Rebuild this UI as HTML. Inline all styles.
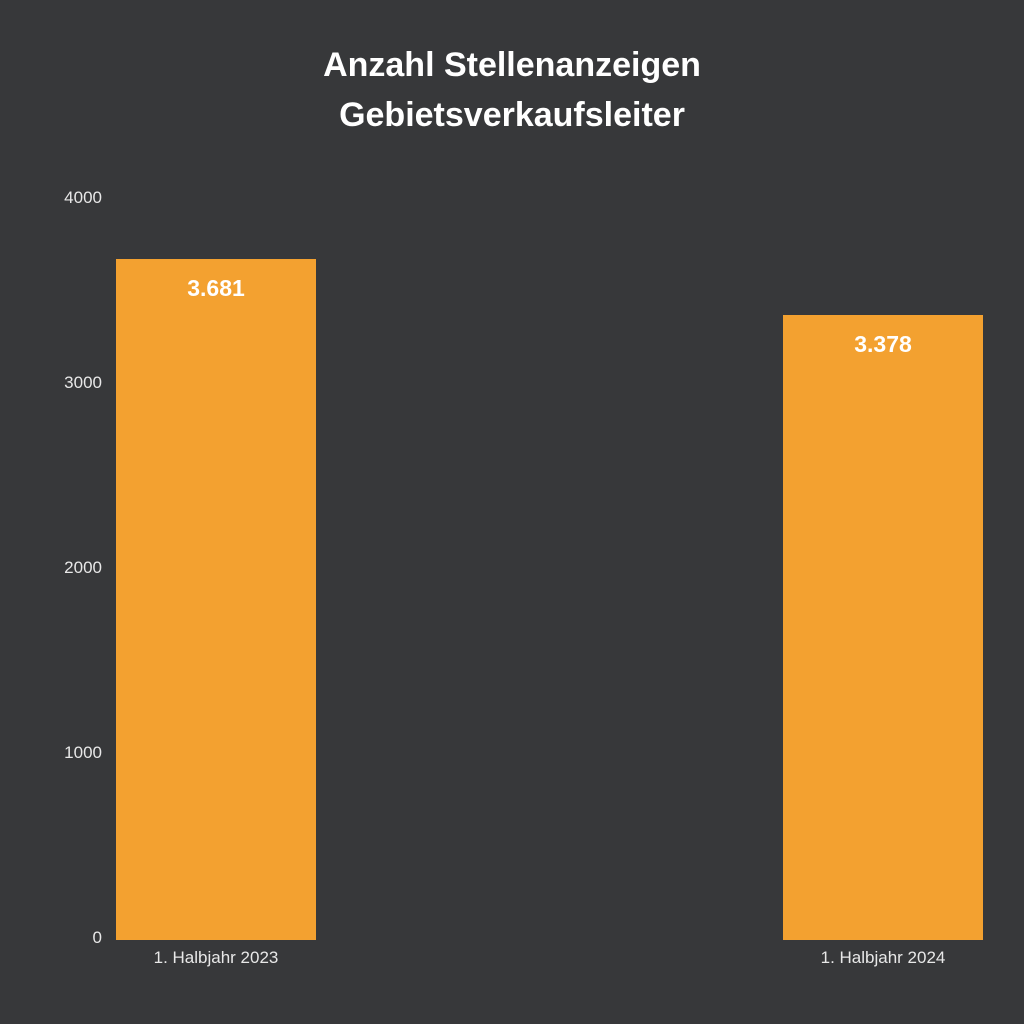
<!DOCTYPE html>
<html><head><meta charset="utf-8">
<style>
html,body{margin:0;padding:0;background:#37383a;}
#chart{position:relative;width:1024px;height:1024px;background:#37383a;font-family:"Liberation Sans",sans-serif;overflow:hidden;}
.title{position:absolute;left:0;width:1024px;text-align:center;color:#fff;font-weight:bold;font-size:34px;line-height:50px;}
.tick{position:absolute;color:#e8e8e8;font-size:17px;text-align:right;width:80px;left:22px;}
.bar{position:absolute;background:#f3a130;}
.val{position:absolute;color:#fff;font-weight:bold;font-size:23px;text-align:center;}
.cat{position:absolute;color:#e8e8e8;font-size:17px;text-align:center;width:240px;}
</style></head>
<body>
<div id="chart">
<div class="title" style="top:40px">Anzahl Stellenanzeigen<br>Gebietsverkaufsleiter</div>
</div>
<script>
const categories=["1. Halbjahr 2023","1. Halbjahr 2024"];
const values=[3681,3378];
const valueLabels=["3.681","3.378"];
const yTicks=[0,1000,2000,3000,4000];
const chart=document.getElementById('chart');
const y0=940,y1=200,yMax=4000;
function yScale(v){return y0-(v/yMax)*(y0-y1);}
const barLeft=[116,783]; // layout slots
const barW=200;
function xScale(i){return 116+i*(783-116)/(categories.length-1);}
yTicks.forEach(t=>{
  const d=document.createElement('div');
  d.className='tick';
  
  
  d.style.top=(yScale(t)-12)+'px';
  d.textContent=t;
  chart.appendChild(d);
});
categories.forEach((c,i)=>{
  const x=xScale(i);
  const top=yScale(values[i]);
  const b=document.createElement('div');
  b.className='bar';
  
  
  b.style.left=x+'px';b.style.width=barW+'px';
  b.style.top=top+'px';b.style.height=(y0-top)+'px';
  chart.appendChild(b);
  const v=document.createElement('div');
  v.className='val';
  
  
  v.style.left=x+'px';v.style.width=barW+'px';v.style.top=(top+16)+'px';
  v.textContent=valueLabels[i];
  chart.appendChild(v);
  const l=document.createElement('div');
  l.className='cat';
  
  
  l.style.left=(x+barW/2-120)+'px';l.style.top='948px';
  l.textContent=c;
  chart.appendChild(l);
});
</script>
</body></html>
